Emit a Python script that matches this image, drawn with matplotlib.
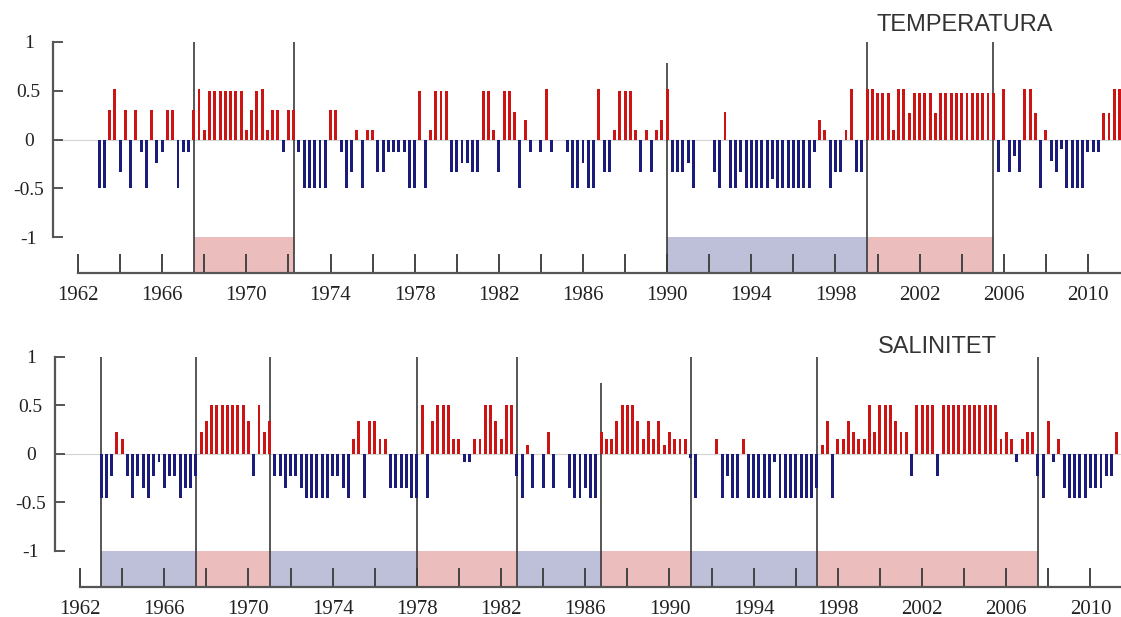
import numpy as np
import matplotlib.pyplot as plt

# quarterly anomalies, first bar at 1963.0, step 0.25 yr
temp_start = 1963.0
temp_values = [
    -0.5, -0.5, 0.3, 0.52,      # 1963
    -0.33, 0.3, -0.5, 0.3,      # 1964
    -0.13, -0.5, 0.3, -0.24,    # 1965
    -0.13, 0.3, 0.3, -0.5,      # 1966
    -0.13, -0.13, 0.3, 0.52,    # 1967
    0.1, 0.5, 0.5, 0.5,         # 1968
    0.5, 0.5, 0.5, 0.5,         # 1969
    0.1, 0.3, 0.5, 0.52,        # 1970
    0.1, 0.3, 0.3, -0.13,       # 1971
    0.3, 0.3, -0.13, -0.5,      # 1972
    -0.5, -0.5, -0.5, -0.5,     # 1973
    0.3, 0.3, -0.13, -0.5,      # 1974
    -0.33, 0.1, -0.5, 0.1,      # 1975
    0.1, -0.33, -0.33, -0.13,   # 1976
    -0.13, -0.13, -0.13, -0.5,  # 1977
    -0.5, 0.5, -0.5, 0.1,       # 1978
    0.5, 0.5, 0.5, -0.33,       # 1979
    -0.33, -0.24, -0.24, -0.33, # 1980
    -0.33, 0.5, 0.5, 0.1,       # 1981
    -0.33, 0.5, 0.5, 0.28,      # 1982
    -0.5, 0.2, -0.13, 0.0,      # 1983
    -0.13, 0.52, -0.13, 0.0,    # 1984
    0.0, -0.13, -0.5, -0.5,     # 1985
    -0.24, -0.5, -0.5, 0.52,    # 1986
    -0.33, -0.33, 0.1, 0.5,     # 1987
    0.5, 0.5, 0.1, -0.33,       # 1988
    0.1, -0.33, 0.1, 0.2,       # 1989
    0.52, -0.33, -0.33, -0.33,  # 1990
    -0.24, -0.5, 0.0, 0.0,      # 1991
    0.0, -0.33, -0.5, 0.28,     # 1992
    -0.5, -0.5, -0.33, -0.5,    # 1993
    -0.5, -0.5, -0.5, -0.5,     # 1994
    -0.4, -0.5, -0.5, -0.5,     # 1995
    -0.5, -0.5, -0.5, -0.5,     # 1996
    -0.13, 0.2, 0.1, -0.5,      # 1997
    -0.33, -0.33, 0.1, 0.52,    # 1998
    -0.33, -0.33, 0.52, 0.52,   # 1999
    0.48, 0.48, 0.48, 0.1,      # 2000
    0.52, 0.52, 0.27, 0.48,     # 2001
    0.48, 0.48, 0.48, 0.27,     # 2002
    0.48, 0.48, 0.48, 0.48,     # 2003
    0.48, 0.48, 0.48, 0.48,     # 2004
    0.48, 0.48, 0.48, -0.33,    # 2005
    0.52, -0.33, -0.17, -0.33,  # 2006
    0.52, 0.52, 0.27, -0.5,     # 2007
    0.1, -0.22, -0.33, -0.1,    # 2008
    -0.5, -0.5, -0.5, -0.5,     # 2009
    -0.13, -0.13, -0.13, 0.27,  # 2010
    0.27, 0.52, 0.52,           # 2011
]

sal_start = 1963.0
sal_values = [
    -0.45, -0.45, -0.23, 0.22,  # 1963
    0.15, -0.23, -0.45, -0.23,  # 1964
    -0.35, -0.45, -0.23, -0.08, # 1965
    -0.35, -0.23, -0.23, -0.45, # 1966
    -0.35, -0.35, -0.23, 0.22,  # 1967
    0.34, 0.5, 0.5, 0.5,        # 1968
    0.5, 0.5, 0.5, 0.5,         # 1969
    0.34, -0.23, 0.5, 0.22,     # 1970
    0.34, -0.23, -0.23, -0.35,  # 1971
    -0.23, -0.23, -0.35, -0.45, # 1972
    -0.45, -0.45, -0.45, -0.45, # 1973
    -0.23, -0.23, -0.35, -0.45, # 1974
    0.15, 0.34, -0.45, 0.34,    # 1975
    0.34, 0.15, 0.15, -0.35,    # 1976
    -0.35, -0.35, -0.35, -0.45, # 1977
    -0.45, 0.5, -0.45, 0.34,    # 1978
    0.5, 0.5, 0.5, 0.15,        # 1979
    0.15, -0.08, -0.08, 0.15,   # 1980
    0.15, 0.5, 0.5, 0.34,       # 1981
    0.15, 0.5, 0.5, -0.23,      # 1982
    -0.45, 0.09, -0.35, 0.0,    # 1983
    -0.35, 0.22, -0.35, 0.0,    # 1984
    0.0, -0.35, -0.45, -0.45,   # 1985
    -0.35, -0.45, -0.45, 0.22,  # 1986
    0.15, 0.15, 0.34, 0.5,      # 1987
    0.5, 0.5, 0.34, 0.15,       # 1988
    0.34, 0.15, 0.34, 0.09,     # 1989
    0.22, 0.15, 0.15, 0.15,     # 1990
    -0.04, -0.45, 0.0, 0.0,     # 1991
    0.0, 0.15, -0.45, -0.23,    # 1992
    -0.45, -0.45, 0.15, -0.45,  # 1993
    -0.45, -0.45, -0.45, -0.45, # 1994
    -0.08, -0.45, -0.45, -0.45, # 1995
    -0.45, -0.45, -0.45, -0.45, # 1996
    -0.35, 0.09, 0.34, -0.45,   # 1997
    0.15, 0.15, 0.34, 0.22,     # 1998
    0.15, 0.15, 0.5, 0.22,      # 1999
    0.5, 0.5, 0.5, 0.34,        # 2000
    0.22, 0.22, -0.23, 0.5,     # 2001
    0.5, 0.5, 0.5, -0.23,       # 2002
    0.5, 0.5, 0.5, 0.5,         # 2003
    0.5, 0.5, 0.5, 0.5,         # 2004
    0.5, 0.5, 0.5, 0.15,        # 2005
    0.22, 0.15, -0.08, 0.15,    # 2006
    0.22, 0.22, -0.23, -0.45,   # 2007
    0.34, -0.08, 0.15, -0.35,   # 2008
    -0.45, -0.45, -0.45, -0.45, # 2009
    -0.35, -0.35, -0.35, -0.23, # 2010
    -0.23, 0.22,                # 2011
]

# regime shifts: year of the line and where it stops at the top
temp_breaks = [1967.5, 1972.25, 1990.0, 1999.5, 2005.5]
temp_break_tops = [1.0, 1.0, 0.78, 1.0, 1.0]
temp_regimes = [(1967.5, 1972.25, "warm"), (1990.0, 1999.5, "cold"),
                (1999.5, 2005.5, "warm")]

sal_breaks = [1963.0, 1967.5, 1971.0, 1978.0, 1982.75, 1986.75, 1991.0, 1997.0, 2007.5]
sal_break_tops = [1.0, 1.0, 1.0, 1.0, 1.0, 0.73, 1.0, 1.0, 1.0]
sal_regimes = [(1963.0, 1967.5, "cold"), (1967.5, 1971.0, "warm"),
               (1971.0, 1978.0, "cold"), (1978.0, 1982.75, "warm"),
               (1982.75, 1986.75, "cold"), (1986.75, 1991.0, "warm"),
               (1991.0, 1997.0, "cold"), (1997.0, 2007.5, "warm")]

RED = "#cc1414"
BLUE = "#1b1b7c"
SHADE = {"warm": "#ecbdbd", "cold": "#bebfd9"}
LINE = "#3a3a3a"
SERIF = "Liberation Serif"

W, H = 1121, 617
fig = plt.figure(figsize=(W / 100, H / 100), dpi=100)


def panel(rect, start, values, breaks, tops, regimes, xlim):
    ax = fig.add_axes(rect)
    vals = np.array(values)
    t = start + 0.25 * np.arange(len(vals))
    cols = np.where(vals >= 0, RED, BLUE)

    for a, b, kind in regimes:
        ax.fill_between([a, b], -1.37, -1.0, color=SHADE[kind], lw=0, zorder=1)
    ax.axhline(0, color="#d4d4d4", lw=0.8, zorder=1)
    ax.vlines(breaks, -1.37, tops, colors=LINE, lw=1.2, zorder=2)
    ax.bar(t, vals, width=0.14, color=cols, zorder=3)

    ax.set_xlim(*xlim)
    ax.set_ylim(-1.37, 1.0)
    for s in ["top", "right"]:
        ax.spines[s].set_visible(False)
    ax.spines["left"].set_bounds(-1, 1)
    ax.spines["bottom"].set_bounds(1962, xlim[1])
    for s in ["left", "bottom"]:
        ax.spines[s].set_color("#555555")
        ax.spines[s].set_linewidth(1.6)

    ax.set_yticks([1, 0.5, 0, -0.5, -1])
    ax.set_yticklabels(["1", "0.5", "0", "-0.5", "-1"])
    ax.tick_params(axis="y", direction="in", length=7, width=1.4, color="#555555",
                   pad=17.5, labelsize=14, labelcolor="#222222")
    for lab in ax.get_yticklabels():
        lab.set_horizontalalignment("center")
        lab.set_fontfamily(SERIF)

    ax.set_xticks(np.arange(1962, 2011, 4))
    ax.set_xticks(np.arange(1964, 2011, 4), minor=True)
    ax.set_xticklabels([str(y) for y in range(1962, 2011, 4)])
    ax.tick_params(axis="x", which="both", direction="in", length=13.5, width=1.4,
                   color="#444444", pad=9.5, labelsize=15, labelcolor="#222222")
    for lab in ax.get_xticklabels():
        lab.set_fontfamily(SERIF)
    return ax


panel([53 / W, (H - 273.1) / H, (W - 53) / W, 231.1 / H],
      temp_start, temp_values, temp_breaks, temp_break_tops, temp_regimes,
      (1960.81, 2011.57))
panel([55 / W, (H - 586.9) / H, (W - 55) / W, 230.2 / H],
      sal_start, sal_values, sal_breaks, sal_break_tops, sal_regimes,
      (1960.81, 2011.45))

fig.text(965 / W, 1 - 25 / H, "TEMPERATURA", ha="center", va="center",
         fontsize=17, family="Liberation Sans", color="#333333")
fig.text(937 / W, 1 - 347 / H, "SALINITET", ha="center", va="center",
         fontsize=17, family="Liberation Sans", color="#333333")

fig.savefig("out.png", dpi=100)
